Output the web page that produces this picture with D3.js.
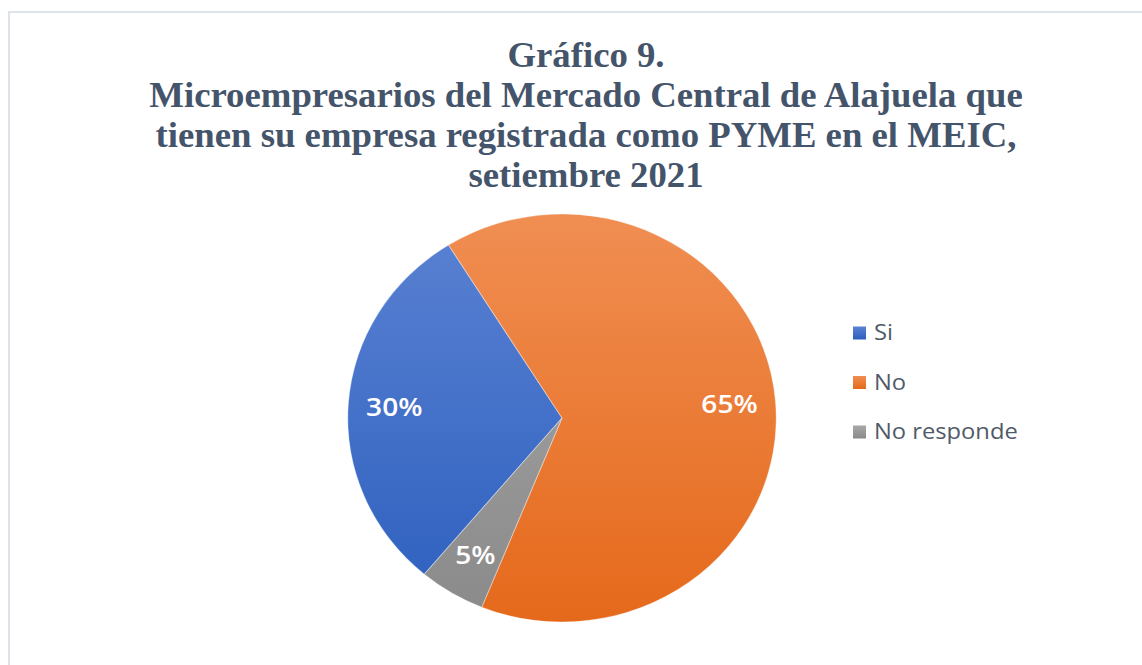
<!DOCTYPE html>
<html>
<head>
<meta charset="utf-8">
<script src="https://cdn.jsdelivr.net/npm/d3@7"></script>
<style>
  body { margin: 0; background: #fff; }
  svg { display: block; }
</style>
</head>
<body>
<svg id="chart" width="1142" height="665"></svg>
<script>
var categories = ["Si", "No", "No responde"];
var values = [30, 65, 5];
var labels = ["30%", "65%", "5%"];
var titleLines = [
    "Gráfico 9.",
    "Microempresarios del Mercado Central de Alajuela que",
    "tienen su empresa registrada como PYME en el MEIC,",
    "setiembre 2021"
];

var colorTop = ["#5b82d3", "#f08e52", "#a8a8a8"];
var colorBottom = ["#2c5fbe", "#e5691b", "#8a8a8a"];

var svg = d3.select("#chart");
var cx = 562, cy = 418, r = 204, sx = 1.05;

// frame
svg.append("rect")
    .attr("x", 9).attr("y", 12)
    .attr("width", 1150).attr("height", 670)
    .attr("fill", "none")
    .attr("stroke", "#dee3ea")
    .attr("stroke-width", 2);

// title (source is slightly stretched horizontally)
svg.append("g")
    .attr("transform", "translate(586,0) scale(1.05,1)")
    .selectAll("text")
    .data(titleLines)
    .enter()
    .append("text")
    .attr("x", 0)
    .attr("y", function(d, i){ return 67 + i * 40; })
    .attr("text-anchor", "middle")
    .attr("font-family", "'Liberation Serif', 'Times New Roman', serif")
    .attr("font-weight", "bold")
    .attr("font-size", 35)
    .attr("fill", "#44546a")
    .text(function(d){ return d; });

// gradients
var defs = svg.append("defs");
categories.forEach(function(c, i){
    var g = defs.append("linearGradient")
        .attr("id", "grad" + i)
        .attr("gradientUnits", "userSpaceOnUse")
        .attr("x1", 0).attr("y1", -r)
        .attr("x2", 0).attr("y2", r);
    g.append("stop").attr("offset", "0%").attr("stop-color", colorTop[i]);
    g.append("stop").attr("offset", "100%").attr("stop-color", colorBottom[i]);

    var lg = defs.append("linearGradient")
        .attr("id", "lg" + i)
        .attr("x1", 0).attr("y1", 0).attr("x2", 0).attr("y2", 1);
    lg.append("stop").attr("offset", "0%").attr("stop-color", colorTop[i]);
    lg.append("stop").attr("offset", "100%").attr("stop-color", colorBottom[i]);
});

var start = 220 * Math.PI / 180;
var pie = d3.pie().sort(null).value(function(d){ return d; })
    .startAngle(start).endAngle(start + 2 * Math.PI);
var arcs = pie(values);
var arc = d3.arc().innerRadius(0).outerRadius(r);

var pieG = svg.append("g")
    .attr("transform", "translate(" + cx + "," + cy + ") scale(" + sx + ",1)");

pieG.selectAll("path")
    .data(arcs)
    .enter()
    .append("path")
    .attr("d", arc)
    .attr("fill", function(d, i){ return "url(#grad" + i + ")"; })
    .attr("stroke", "#ffffff")
    .attr("stroke-opacity", 0.35)
    .attr("stroke-width", 1);

// data labels
var labelArc = d3.arc().innerRadius(r * 0.785).outerRadius(r * 0.785);
svg.append("g")
    .attr("transform", "translate(" + cx + "," + cy + ")")
    .selectAll("text")
    .data(arcs)
    .enter()
    .append("text")
    .attr("transform", function(d){
        var c = labelArc.centroid(d);
        return "translate(" + (c[0] * sx) + "," + c[1] + ") scale(1.08,1)";
    })
    .attr("dy", "0.35em")
    .attr("text-anchor", "middle")
    .attr("font-family", "'Open Sans', 'Noto Sans', sans-serif")
    .attr("font-weight", 600)
    .attr("font-size", 26)
    .attr("fill", "#ffffff")
    .text(function(d, i){ return labels[i]; });

// legend
var legend = svg.append("g").attr("transform", "translate(853,333)");
var items = legend.selectAll("g")
    .data(categories)
    .enter()
    .append("g")
    .attr("transform", function(d, i){ return "translate(0," + (i * 49.5) + ")"; });
items.append("rect")
    .attr("x", 0).attr("y", -6.5)
    .attr("width", 13).attr("height", 13)
    .attr("fill", function(d, i){ return "url(#lg" + i + ")"; });
items.append("text")
    .attr("transform", "translate(21,0) scale(1.13,1)")
    .attr("dy", "0.35em")
    .attr("font-family", "'Open Sans', 'Noto Sans', sans-serif")
    .attr("font-size", 21)
    .attr("fill", "#505a68")
    .text(function(d){ return d; });
</script>
</body>
</html>
